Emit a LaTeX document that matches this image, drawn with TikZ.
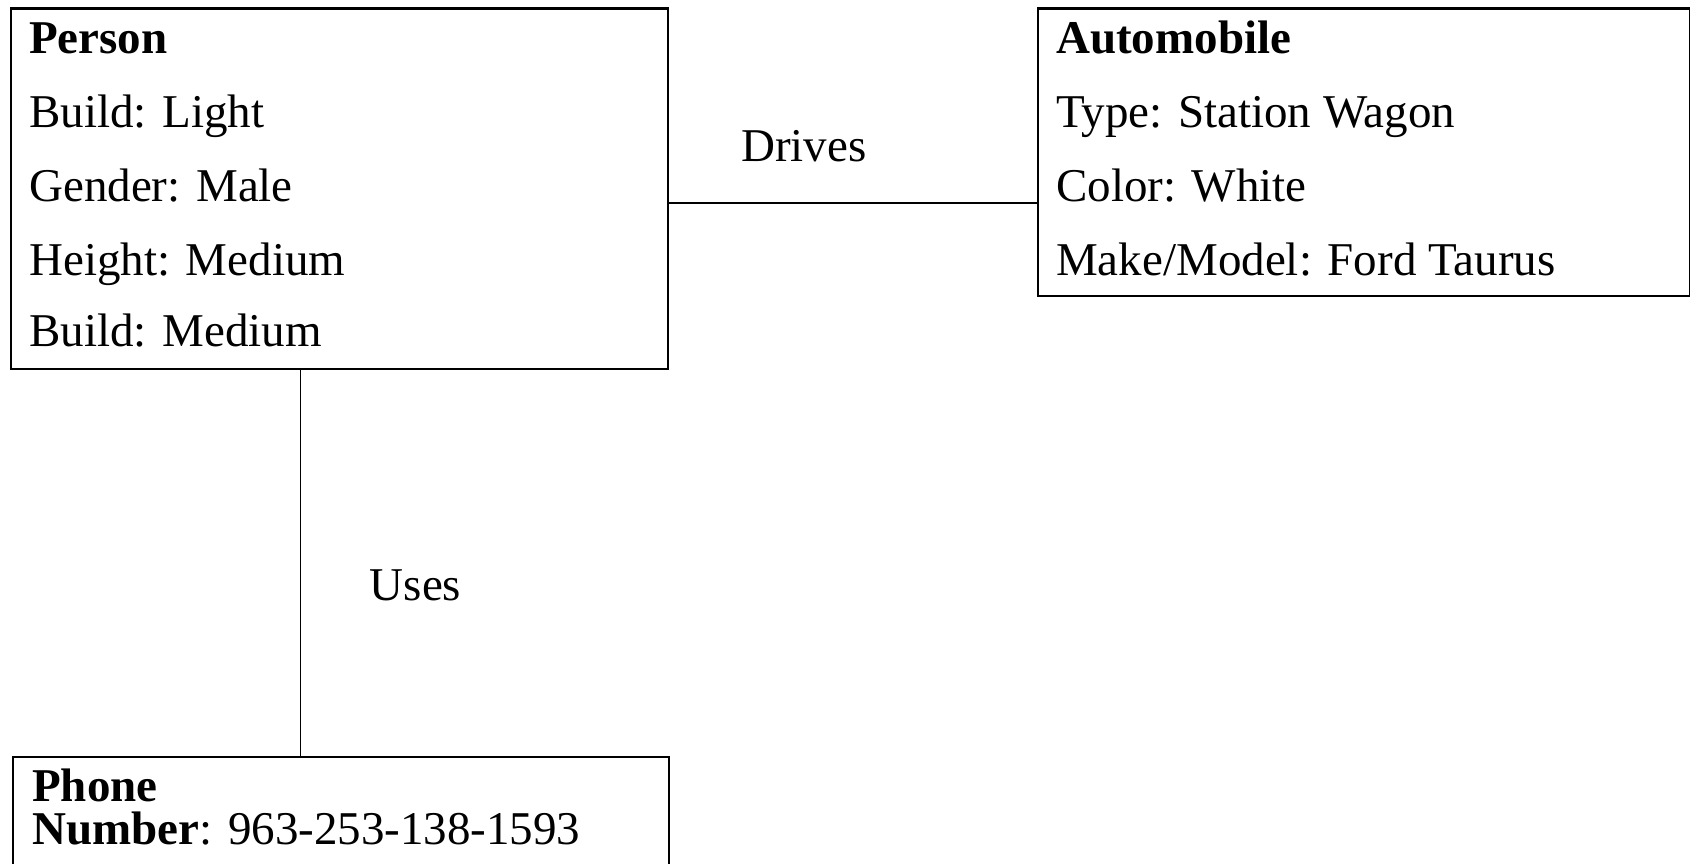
\documentclass[tikz,border=0pt]{standalone}
\usepackage{fontspec}
\setmainfont{Liberation Serif}
\usetikzlibrary{positioning}

\begin{document}
\begin{tikzpicture}[x=1pt,y=-1pt,
  entity/.style={draw=black,line width=2.2pt,rectangle,inner sep=0pt,anchor=north west},
  attr/.style={anchor=base west,inner sep=0pt,font=\fontsize{47}{42.3}\selectfont},
  rel/.style={draw=black,line width=1.4pt}]
  \useasboundingbox (0,0) rectangle (1690,864);
  % entity boxes
  \node[entity,minimum width=657pt,minimum height=360pt] (person) at (9.7,7.5) {};
  \node[entity,minimum width=652pt,minimum height=287.5pt] (auto) at (1037,7.5) {};
  \node[entity,minimum width=656pt,minimum height=140pt] (phone) at (12,755.5) {};
  % person attributes
  \node[attr] (pname) at (29,53.3) {\textbf{Person}};
  \node[attr] (pbuild) at (29,127.7) {Build: Light};
  \node[attr] (pgender) at (29,201) {Gender: Male};
  \node[attr] (pheight) at (29,275) {Height: Medium};
  \node[attr] (pbuild2) at (29,346.7) {Build: Medium};
  % automobile attributes
  \node[attr] (aname) at (1056,53.3) {\textbf{Automobile}};
  \node[attr] (atype) at (1056,127.7) {Type: Station Wagon};
  \node[attr] (acolor) at (1056,201) {Color: White};
  \node[attr] (amake) at (1056,275) {Make/Model: Ford Taurus};
  % phone attributes
  \node[attr,align=left] (phnum) at (32,844) {\textbf{Phone}\\\textbf{Number}: 963-253-138-1593};
  % relations
  \draw[rel] ([yshift=-14.2pt]person.east) -- ([yshift=-14.2pt]person.east -| auto.west);
  \draw[rel] ([xshift=-39pt]person.south) -- ([xshift=-39pt]person.south |- phone.north);
  \node[attr] (drives) at (741,161.7) {Drives};
  \node[attr] (uses) at (369.7,600) {Uses};
\end{tikzpicture}
\end{document}
